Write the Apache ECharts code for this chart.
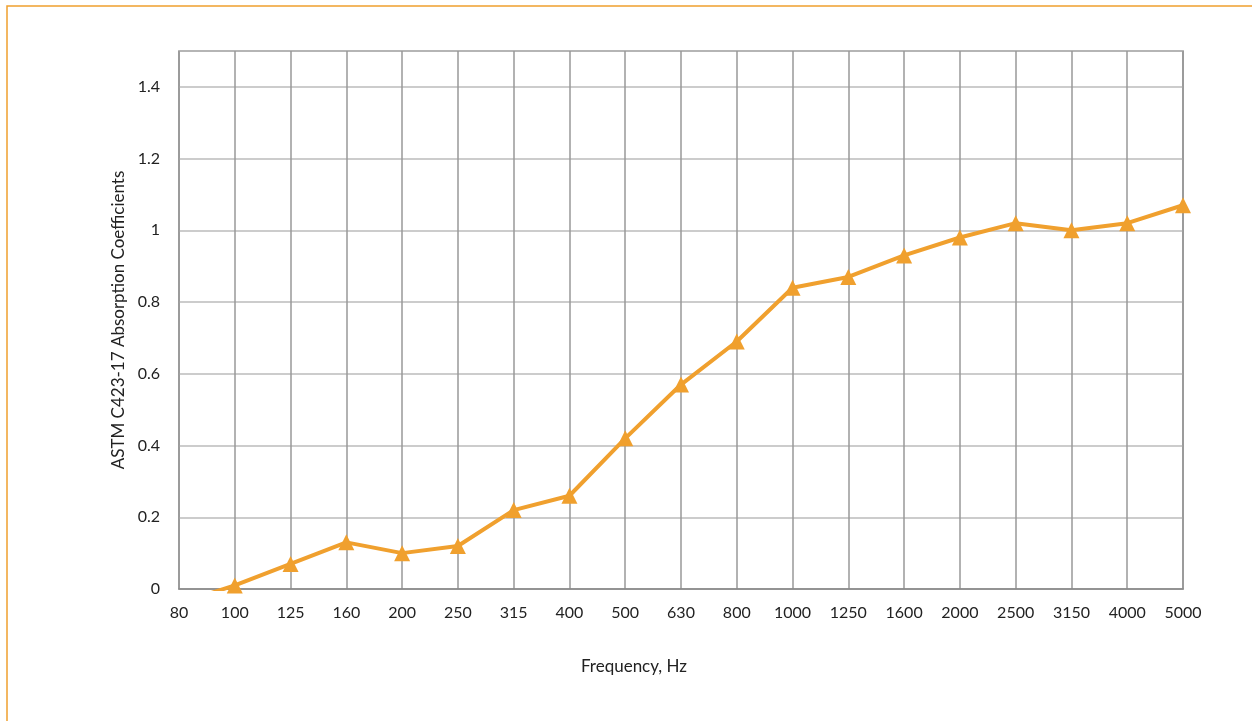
<!DOCTYPE html>
<html lang="en">
<head>
    <meta charset="UTF-8">
    <title>ASTM C423-17 Absorption</title>
    <style>
        html, body { margin: 0; padding: 0; background: #fff; }
        #chart { width: 1252px; height: 721px; }
    </style>
</head>
<body>
    <div id="chart"></div>
    <script src="https://cdn.jsdelivr.net/npm/echarts@6/dist/echarts.min.js"></script>
    <script>
        // frequency bands (Hz)
        var frequencies = ['80', '100', '125', '160', '200', '250', '315', '400', '500', '630',
            '800', '1000', '1250', '1600', '2000', '2500', '3150', '4000', '5000'];
        // absorption coefficients (80 Hz falls just below 0)
        var coefficients = [-0.04, 0.01, 0.07, 0.13, 0.10, 0.12, 0.22, 0.26, 0.42, 0.57,
            0.69, 0.84, 0.87, 0.93, 0.98, 1.02, 1.00, 1.02, 1.07];

        var orange = '#F0A02E';
        var font = 'Lato, "Open Sans", sans-serif';

        var chart = echarts.init(document.getElementById('chart'));
        var option = {
            animation: false,
            title: {
                text: 'Frequency, Hz',
                left: 629,
                top: 653,
                textAlign: 'center',
                textStyle: { fontFamily: font, fontSize: 17, fontWeight: 'normal', color: '#222' }
            },
            graphic: [{
                type: 'rect',
                shape: { x: 7, y: 6, width: 1260, height: 730 },
                style: { fill: 'none', stroke: orange, lineWidth: 1.5 }
            }],
            grid: {
                show: true,
                left: 179,
                right: 69,
                top: 51,
                bottom: 132,
                borderColor: '#888',
                borderWidth: 1.5
            },
            xAxis: {
                type: 'category',
                data: frequencies,
                boundaryGap: false,
                axisLine: { lineStyle: { color: '#888', width: 1.5 } },
                axisTick: { show: false },
                axisLabel: { margin: 16, fontFamily: font, fontSize: 16, color: '#222' },
                splitLine: { show: true, lineStyle: { color: '#999', width: 1.5 } }
            },
            yAxis: {
                type: 'value',
                min: 0,
                max: 1.5,
                interval: 0.2,
                name: 'ASTM C423-17 Absorption Coefficients',
                nameLocation: 'middle',
                nameGap: 49,
                nameTextStyle: { fontFamily: font, fontSize: 17, color: '#222' },
                axisLine: { show: false },
                axisTick: { show: false },
                axisLabel: {
                    margin: 19,
                    showMaxLabel: false,
                    fontFamily: font,
                    fontSize: 16,
                    color: '#222',
                    formatter: function (v) { return String(Math.round(v * 10) / 10); }
                },
                splitLine: { lineStyle: { color: '#bbb', width: 1.5 } }
            },
            series: [{
                type: 'line',
                data: coefficients,
                clip: true,
                symbol: 'triangle',
                symbolSize: 16,
                lineStyle: { color: orange, width: 4 },
                itemStyle: { color: orange }
            }]
        };
        chart.setOption(option);
    </script>
</body>
</html>
